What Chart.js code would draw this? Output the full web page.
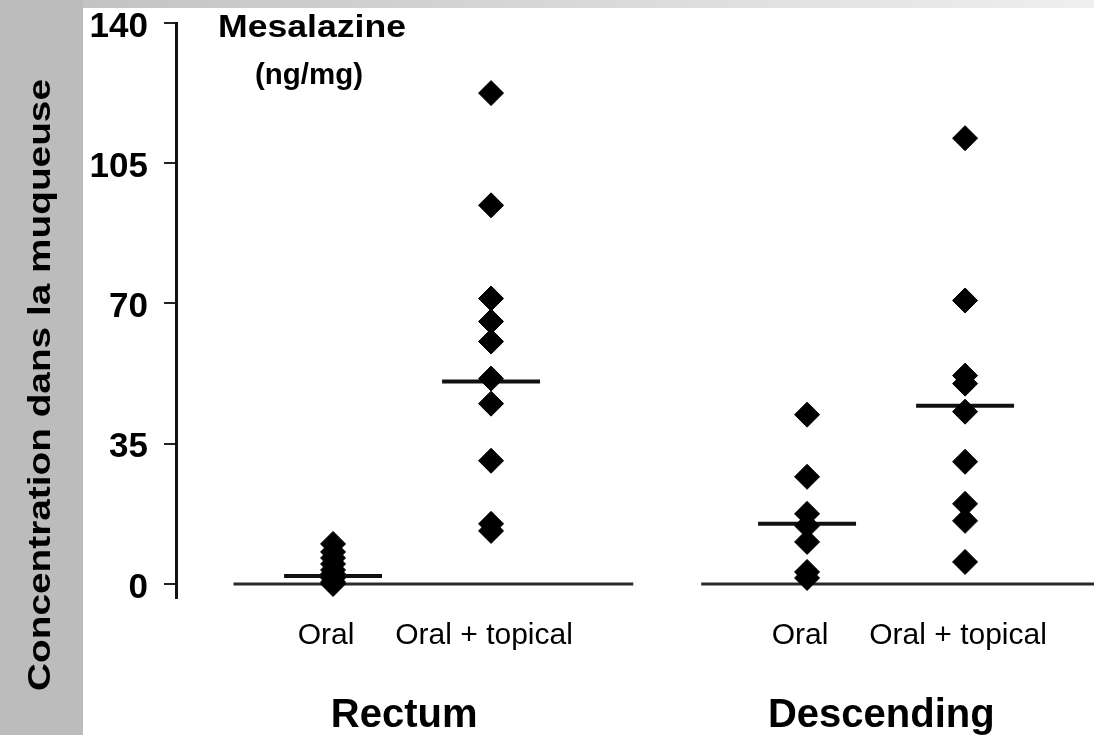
<!DOCTYPE html>
<html>
<head>
<meta charset="utf-8">
<script src="https://cdn.jsdelivr.net/npm/chart.js@4.4.0/dist/chart.umd.min.js"></script>
<style>
  html, body { margin: 0; padding: 0; background: #fff; overflow: hidden; }
  #wrap { position: relative; width: 1094px; height: 735px; }
</style>
</head>
<body>
<div id="wrap"><canvas id="c" width="1094" height="735"></canvas></div>
<script>
// Mucosal mesalazine concentration (ng/mg) by site and treatment
const groupLabels = ['Rectum', 'Descending'];
const groupCenters = [1.45, 4.47];
const categoryLabels = ['Oral', 'Oral + topical', 'Oral', 'Oral + topical'];
const categoryPositions = [1, 2, 4, 5];

const rectumOral = [10, 8, 6.5, 5, 3.5, 2.5, 1.5, 0.5, 0];
const rectumTopical = [122.5, 94.5, 71.25, 65.5, 60.5, 51.25, 45, 30.75, 15, 13.25];
const descendingOral = [42.25, 26.75, 17.5, 14.5, 10.5, 3, 1.5];
const descendingTopical = [111.25, 70.75, 52, 50, 43, 30.5, 20, 15.75, 5.5];
const medians = [2, 50.5, 15, 44.5];

const yTicks = [0, 35, 70, 105, 140];
const baselineSpans = [[0.37, 2.9], [3.33, 5.816]];

const series = [rectumOral, rectumTopical, descendingOral, descendingTopical];
const MEDIAN_HALF = 0.31;

const pointSets = series.map((vals, i) => ({
  type: 'scatter',
  data: vals.map(v => ({ x: categoryPositions[i], y: v })),
  pointStyle: 'rectRot',
  pointRadius: 12.5,
  pointHoverRadius: 12.5,
  backgroundColor: '#000',
  borderColor: '#000',
  borderWidth: 1,
  clip: false
}));

const medianSets = medians.map((m, i) => ({
  type: 'line',
  data: [{ x: categoryPositions[i] - MEDIAN_HALF, y: m }, { x: categoryPositions[i] + MEDIAN_HALF, y: m }],
  borderColor: '#111',
  borderWidth: 4,
  pointRadius: 0,
  showLine: true
}));

const baselineSets = baselineSpans.map(s => ({
  type: 'line',
  data: [{ x: s[0], y: 0 }, { x: s[1], y: 0 }],
  borderColor: '#2a2a2a',
  borderWidth: 3,
  pointRadius: 0,
  showLine: true,
  clip: false
}));

function stretchText(ctx, text, x, y, font, width) {
  ctx.save();
  ctx.font = font;
  const k = width / ctx.measureText(text).width;
  ctx.translate(x, y);
  ctx.scale(k, 1);
  ctx.textAlign = 'center';
  ctx.textBaseline = 'alphabetic';
  ctx.fillText(text, 0, 0);
  ctx.restore();
}

const framePlugin = {
  id: 'frame',
  beforeDraw(chart) {
    const ctx = chart.ctx;
    ctx.save();
    ctx.fillStyle = '#ffffff';
    ctx.fillRect(0, 0, chart.width, chart.height);
    const g = ctx.createLinearGradient(83, 0, chart.width, 0);
    g.addColorStop(0, '#c3c3c3');
    g.addColorStop(1, '#efefef');
    ctx.fillStyle = g;
    ctx.fillRect(83, 0, chart.width - 83, 8);
    ctx.fillStyle = '#bcbcbc';
    ctx.fillRect(0, 0, 83, chart.height);
    ctx.restore();
  },
  afterDraw(chart) {
    const ctx = chart.ctx;
    const xs = chart.scales.x;
    ctx.save();
    ctx.fillStyle = '#000';
    // unit heading
    stretchText(ctx, 'Mesalazine', 312, 37, 'bold 31px "Liberation Sans"', 188);
    stretchText(ctx, '(ng/mg)', 309, 84, 'bold 30px "Liberation Sans"', 108);
    // site labels under each pair
    ctx.font = 'bold 40px "Liberation Sans"';
    ctx.textAlign = 'center';
    ctx.textBaseline = 'alphabetic';
    groupLabels.forEach((t, i) => ctx.fillText(t, xs.getPixelForValue(groupCenters[i]), 727));
    // vertical title in the side band
    ctx.save();
    ctx.translate(50, 385);
    ctx.rotate(-Math.PI / 2);
    stretchText(ctx, 'Concentration dans la muqueuse', 0, 0, 'bold 32px "Liberation Sans"', 612);
    ctx.restore();
    ctx.restore();
  }
};

Chart.defaults.font.family = '"Liberation Sans", Arial, sans-serif';

new Chart(document.getElementById('c'), {
  type: 'scatter',
  data: { datasets: [...pointSets, ...medianSets, ...baselineSets] },
  options: {
    responsive: false,
    animation: false,
    devicePixelRatio: 1,
    layout: { autoPadding: false, padding: { top: 23, left: 0, right: 0, bottom: 0 } },
    plugins: { legend: { display: false }, tooltip: { enabled: false } },
    scales: {
      x: {
        type: 'linear',
        min: 0.006,
        max: 5.816,
        afterBuildTicks: s => { s.ticks = categoryPositions.map(v => ({ value: v })); },
        afterFit: s => { s.height = 137; s.paddingLeft = 0; s.paddingRight = 0; },
        border: { display: false },
        grid: { display: false, drawTicks: false },
        ticks: {
          callback: (v, i) => categoryLabels[i],
          color: '#000',
          font: { size: 30 },
          padding: 20,
          labelOffset: -7,
          maxRotation: 0,
          autoSkip: false
        }
      },
      y: {
        min: -3.5,
        max: 140,
        afterBuildTicks: s => { s.ticks = yTicks.map(v => ({ value: v })); },
        afterFit: s => { s.width = 176; s.paddingTop = 0; s.paddingBottom = 0; },
        border: { display: true, color: '#111', width: 3 },
        grid: { drawOnChartArea: false, drawTicks: true, tickLength: 12, color: '#222', lineWidth: 2 },
        ticks: {
          color: '#000',
          font: { size: 35, weight: 'bold' },
          padding: 16,
          labelOffset: 4
        }
      }
    }
  },
  plugins: [framePlugin]
});
</script>
</body>
</html>
